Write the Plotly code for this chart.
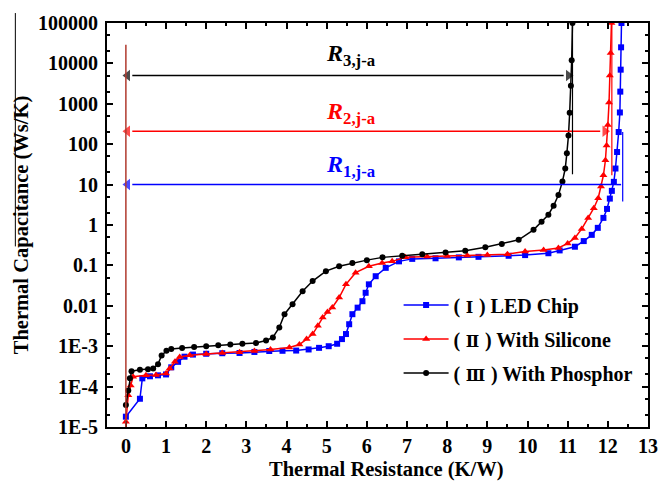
import math
import plotly.graph_objects as go

# ---------------- data ----------------
led_x = [0, 0.35, 0.41, 0.6, 0.8, 1.0, 1.13, 1.3, 1.46, 1.67, 2.0, 2.4, 2.83, 3.2, 3.57, 3.9,
         4.24, 4.55, 4.81, 5.05, 5.26, 5.38, 5.48, 5.56, 5.64, 5.77, 5.89, 5.97, 6.05, 6.22,
         6.47, 6.8, 7.13, 7.71, 8.29, 8.78, 9.53, 9.94, 10.52, 10.8, 11.18, 11.4, 11.6, 11.75,
         11.89, 11.98, 12.05, 12.1, 12.15, 12.19, 12.23, 12.27, 12.3, 12.31, 12.32, 12.33, 12.34]
led_y = [1.8e-5, 5.0e-5, 1.6e-4, 1.8e-4, 1.9e-4, 2.0e-4, 3.0e-4, 4.1e-4, 5.5e-4, 6.2e-4, 6.5e-4,
         6.7e-4, 6.8e-4, 7.2e-4, 7.6e-4, 7.7e-4, 7.8e-4, 8.3e-4, 9.1e-4, 1.0e-3, 1.15e-3, 1.5e-3,
         2.0e-3, 3.5e-3, 6.2e-3, 9.0e-3, 1.3e-2, 2.1e-2, 3.4e-2, 5.4e-2, 8.7e-2, 0.126, 0.145,
         0.15, 0.158, 0.163, 0.173, 0.18, 0.2, 0.235, 0.29, 0.4, 0.57, 0.85, 1.5, 2.5, 4.5, 7,
         11.7, 25, 64, 200, 610, 2000, 7000, 25000, 100000]

sil_x = [0, 0.06, 0.12, 0.18, 0.5, 0.75, 1.0, 1.09, 1.22, 1.34, 1.59, 2.0, 2.4, 2.83, 3.2, 3.6,
         4.07, 4.32, 4.5, 4.65, 4.78, 4.9, 5.02, 5.14, 5.31, 5.48, 5.72, 6.05, 6.38, 6.63, 6.96,
         7.5, 8.0, 8.5, 9.0, 9.5, 9.94, 10.4, 10.77, 11.0, 11.18, 11.35, 11.51, 11.65, 11.76,
         11.83, 11.89, 11.94, 11.97, 12.0, 12.03, 12.05, 12.07, 12.09]
sil_y = [1.35e-5, 6.1e-5, 1.07e-4, 1.75e-4, 1.9e-4, 1.95e-4, 2.1e-4, 2.8e-4, 4.1e-4, 5.4e-4,
         6.0e-4, 6.4e-4, 6.8e-4, 7.1e-4, 7.6e-4, 8.3e-4, 9.3e-4, 1.1e-3, 1.5e-3, 2.0e-3, 3.2e-3,
         5.1e-3, 7.0e-3, 9.1e-3, 1.6e-2, 3.4e-2, 6.6e-2, 9.5e-2, 0.115, 0.126, 0.158, 0.165,
         0.17, 0.175, 0.18, 0.19, 0.22, 0.24, 0.27, 0.35, 0.48, 0.8, 1.5, 2.6, 4.6, 9, 17, 40,
         93, 300, 1070, 5000, 18000, 100000]

pho_x = [0, 0.06, 0.1, 0.14, 0.35, 0.55, 0.68, 0.8, 0.89, 1.01, 1.13, 1.4, 1.7, 2.0, 2.3, 2.6,
         2.9, 3.24, 3.49, 3.66, 3.82, 3.95, 4.15, 4.4, 4.65, 4.98, 5.31, 5.64, 6.0, 6.39, 6.88,
         7.38, 7.96, 8.45, 8.95, 9.36, 9.78, 10.15, 10.35, 10.52, 10.65, 10.77, 10.87, 10.94,
         10.98, 11.02, 11.05, 11.08, 11.1, 11.12]
pho_y = [3.5e-5, 8.0e-5, 1.6e-4, 2.4e-4, 2.6e-4, 2.7e-4, 2.8e-4, 3.6e-4, 5.9e-4, 7.7e-4, 8.5e-4,
         9.0e-4, 9.5e-4, 1.0e-3, 1.05e-3, 1.1e-3, 1.15e-3, 1.2e-3, 1.38e-3, 1.65e-3, 2.9e-3,
         6.2e-3, 1.1e-2, 2.3e-2, 4.1e-2, 7.2e-2, 9.5e-2, 0.114, 0.135, 0.158, 0.173, 0.19, 0.21,
         0.23, 0.28, 0.34, 0.43, 0.76, 1.2, 1.8, 3, 5.5, 12, 25, 60, 165, 600, 2800, 12000, 100000]

series_numerals = ["\u2160", "\u2161", "\u2162"]
series_labels = ["LED Chip", "With Silicone", "With Phosphor"]

y_tickvals = [1e5, 1e4, 1e3, 1e2, 1e1, 1, 0.1, 0.01, 1e-3, 1e-4, 1e-5]
y_ticktext = ["100000", "10000", "1000", "100", "10", "1", "0.1", "0.01", "1E-3", "1E-4", "1E-5"]
x_tickvals = list(range(0, 14))

x_title = "Thermal Resistance (K/W)"
y_title = "Thermal Capacitance (Ws/K)"

# R_j-a arrows: y level, right end, label, label y
arrow_y = [10, 210, 5000]
arrow_xstart = [0.04, 0.04, 0.04]
arrow_xend = [12.33, 11.93, 11.02]
arrow_labels = ["<b><i>R</i><sub>1,j-a</sub></b>", "<b><i>R</i><sub>2,j-a</sub></b>",
                "<b><i>R</i><sub>3,j-a</sub></b>"]
label_logy = [1.46, 2.77, 4.21]
label_x = 5.6

FONT = "Liberation Serif"
colors = ["#0000FF", "#FF0000", "#000000"]


def legend_label(num, txt):
    return ("<b>(</b><span style=\"font-family:DejaVu Serif;font-size:16px\"><b> " + num
            + " </b></span><b>) " + txt + "</b>")


symbols = ["square", "triangle-up", "circle"]
msizes = [6, 7, 6]
groups = ["a", "b", "c"]
xs_all = [led_x, sil_x, pho_x]
ys_all = [led_y, sil_y, pho_y]

fig = go.Figure()
for k in range(3):
    fig.add_trace(go.Scatter(x=xs_all[k], y=ys_all[k], mode="lines+markers",
                             name=legend_label(series_numerals[k], series_labels[k]),
                             legendgroup=groups[k],
                             line=dict(color=colors[k], width=1.5),
                             marker=dict(symbol=symbols[k], size=msizes[k], color=colors[k])))

# double arrows (arrow heads as triangle markers)
for i, (yv, xs, xe, c) in enumerate(zip(arrow_y, arrow_xstart, arrow_xend, colors)):
    right_size = 0 if i == 0 else 10
    fig.add_trace(go.Scatter(x=[xs + 0.12, xe - 0.12], y=[yv, yv], mode="lines", showlegend=False,
                             hoverinfo="skip", line=dict(color=c, width=1.5)))
    fig.add_trace(go.Scatter(x=[xs, xe], y=[yv, yv], mode="markers", showlegend=False,
                             hoverinfo="skip", cliponaxis=False,
                             marker=dict(symbol=["triangle-left", "triangle-right"],
                                         size=[10, right_size], color=c,
                                         line=dict(width=0))))
    if i == 0:
        fig.add_trace(go.Scatter(x=[xe - 0.12, xe], y=[yv, yv], mode="lines",
                                 showlegend=False, hoverinfo="skip",
                                 line=dict(color=c, width=1.5)))

for lab, ly, c in zip(arrow_labels, label_logy, colors):
    fig.add_annotation(x=label_x, y=ly, xref="x", yref="y", text=lab, showarrow=False,
                       font=dict(family=FONT, size=24, color=c))

# x axis title (slightly right of centre, as in the original)
fig.add_annotation(x=0.5166, y=-0.1057, xref="paper", yref="paper", xanchor="center",
                   yanchor="middle", text="<b>" + x_title + "</b>", showarrow=False,
                   font=dict(family=FONT, size=20.5, color="black"))

# vertical reference lines
fig.add_shape(type="line", x0=0, x1=0, y0=1e-5, y1=2.9e4, xref="x", yref="y",
              line=dict(color="#B03A2E", width=1.5))
fig.add_shape(type="line", x0=11.12, x1=11.12, y0=18, y1=1e5, xref="x", yref="y",
              line=dict(color="#000000", width=1.2))
fig.add_shape(type="line", x0=12.1, x1=12.1, y0=17, y1=1e5, xref="x", yref="y",
              line=dict(color="#FF0000", width=1.2))
fig.add_shape(type="line", x0=12.37, x1=12.37, y0=3.8, y1=200, xref="x", yref="y",
              line=dict(color="#0000FF", width=1.2))
# thin line at the top-left of the original picture
fig.add_shape(type="line", x0=-0.1694, x1=-0.1694, y0=0.447, y1=1.0246, xref="paper",
              yref="paper", line=dict(color="#000000", width=1))

axis_common = dict(showline=True, linecolor="black", linewidth=2, mirror="allticks",
                   ticks="inside", tickcolor="black", showgrid=False, zeroline=False,
                   tickfont=dict(family=FONT, size=20, color="black", weight="bold"))

fig.update_xaxes(range=[-0.47, 13.0], tickvals=x_tickvals, ticklen=6, tickwidth=1.5,
                 ticklabelstandoff=0,
                 minor=dict(dtick=0.5, ticks="inside", ticklen=3, tickcolor="black"),
                 **axis_common)
fig.update_yaxes(type="log", range=[-5, 5], tickvals=y_tickvals, ticktext=y_ticktext,
                 ticklen=6, tickwidth=1.5, ticklabelstandoff=3,
                 minor=dict(ticks="inside", ticklen=3, tickcolor="black", showgrid=False),
                 title=dict(text="<b>" + y_title + "</b>", standoff=4,
                            font=dict(family=FONT, size=20.5, color="black")),
                 **axis_common)

fig.update_layout(
    width=670, height=483,
    margin=dict(l=107, r=20, t=20, b=56),
    paper_bgcolor="white", plot_bgcolor="white",
    font=dict(family=FONT, color="black"),
    showlegend=True,
    legend=dict(x=0.539, y=0.35, xanchor="left", yanchor="top", bgcolor="rgba(0,0,0,0)",
                tracegroupgap=5, itemwidth=45,
                font=dict(family=FONT, size=20, color="black")),
)

fig.write_html("out.html")
